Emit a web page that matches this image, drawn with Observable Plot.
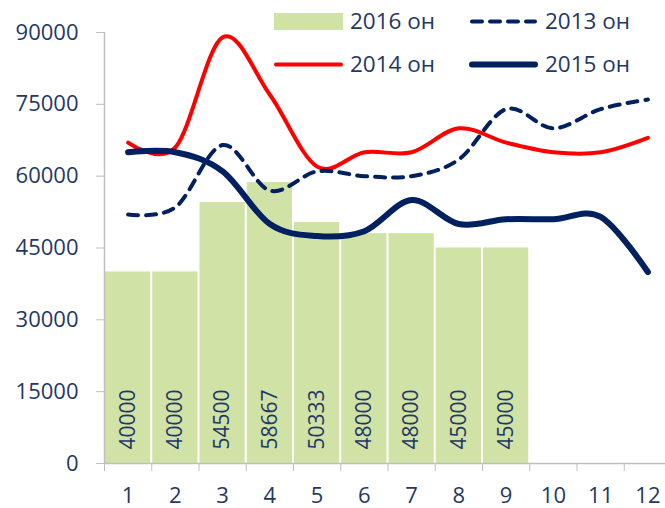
<!DOCTYPE html>
<html>
<head>
<meta charset="utf-8">
<script src="https://cdn.jsdelivr.net/npm/d3@7"></script>
<script src="https://cdn.jsdelivr.net/npm/@observablehq/plot@0.6"></script>
<style>
  html, body { margin: 0; padding: 0; background: #fff; }
  #wrap { position: relative; width: 665px; height: 508px; font-family: "Open Sans", sans-serif; color: #1f3864; }
  .lg { position: absolute; display: flex; align-items: center; font-size: 22.5px; line-height: 1; white-space: nowrap; }
  .lg svg { margin-right: 7px; }
</style>
</head>
<body>
<div id="wrap"></div>
<script>
const months = [1, 2, 3, 4, 5, 6, 7, 8, 9, 10, 11, 12];
const xTickLabels = ["1", "2", "3", "4", "5", "6", "7", "8", "9", "10", "11", "12"];
const yTicks = [0, 15000, 30000, 45000, 60000, 75000, 90000];
const bars2016 = [40000, 40000, 54500, 58667, 50333, 48000, 48000, 45000, 45000];
const line2013 = [52000, 53500, 66500, 57000, 61000, 60000, 60000, 63500, 74000, 70000, 74000, 76000];
const line2014 = [67000, 66000, 89000, 77000, 62000, 65000, 65000, 70000, 67000, 65000, 65000, 68000];
const line2015 = [65000, 65000, 61000, 50000, 47500, 48500, 55000, 50000, 51000, 51000, 51500, 40000];
const seriesNames = ["2016 он", "2013 он", "2014 он", "2015 он"];

const navy = "#002060";
const red = "#ff0000";
const green = "#d1e2a7";
const textCol = "#1f3864";
const grid = "#bfbfbf";

const barData = bars2016.map((v, i) => ({m: months[i], v}));
const mk = arr => arr.map((v, i) => ({m: months[i], v}));
const boundaries = [0.5, ...months.map(m => m + 0.5)];

const chart = Plot.plot({
  width: 665,
  height: 508,
  marginTop: 32,
  marginBottom: 45,
  marginLeft: 104,
  marginRight: 0,
  style: {fontFamily: "'Open Sans', sans-serif", fontSize: "22px", color: textCol, background: "white"},
  x: {domain: [0.5, 12.5], range: [104, 671]},
  y: {domain: [0, 90000]},
  marks: [
    Plot.rectY(barData, {x1: d => d.m - 0.5, x2: d => d.m + 0.5, y: "v", fill: green, insetLeft: 1, insetRight: 1}),
    Plot.text(barData, {x: "m", y: () => 0, text: d => String(d.v), rotate: -90, textAnchor: "start", dy: -14, fill: textCol, fontSize: 21}),
    Plot.ruleX([0.5], {stroke: grid, strokeWidth: 1.5}),
    Plot.ruleY([0], {stroke: grid, strokeWidth: 1.5}),
    Plot.axisY({ticks: yTicks, tickSize: 8, tickPadding: 18, stroke: grid, fill: textCol, label: null, tickFormat: d => String(d), fontSize: 22}),
    Plot.axisX({ticks: boundaries, tickSize: 8, stroke: grid, tickFormat: () => "", label: null}),
    Plot.axisX({ticks: months, tickSize: 0, tickPadding: 24, fill: textCol, tickFormat: (d, i) => xTickLabels[i], label: null, fontSize: 22}),
    Plot.line(mk(line2014), {x: "m", y: "v", stroke: red, strokeWidth: 4, curve: "cardinal"}),
    Plot.line(mk(line2013), {x: "m", y: "v", stroke: navy, strokeWidth: 4, strokeDasharray: "10,8", strokeLinecap: "round", curve: "cardinal"}),
    Plot.line(mk(line2015), {x: "m", y: "v", stroke: navy, strokeWidth: 6, strokeLinecap: "round", curve: "cardinal"})
  ]
});

const wrap = document.getElementById("wrap");
wrap.appendChild(chart);

const legend = [
  {name: seriesNames[0], left: 274, top: 22, sw: `<rect x="0" y="0" width="69" height="17" fill="${green}"/>`},
  {name: seriesNames[1], left: 469, top: 22, sw: `<line x1="3" y1="8.5" x2="66" y2="8.5" stroke="${navy}" stroke-width="4" stroke-dasharray="10,8" stroke-linecap="round"/>`},
  {name: seriesNames[2], left: 274, top: 65, sw: `<line x1="2" y1="8.5" x2="67" y2="8.5" stroke="${red}" stroke-width="4" stroke-linecap="round"/>`},
  {name: seriesNames[3], left: 469, top: 65, sw: `<line x1="3" y1="8.5" x2="66" y2="8.5" stroke="${navy}" stroke-width="6" stroke-linecap="round"/>`}
];
for (const l of legend) {
  const d = document.createElement("div");
  d.className = "lg";
  d.style.left = l.left + "px";
  d.style.top = (l.top - 12) + "px";
  d.innerHTML = `<svg width="69" height="17">${l.sw}</svg><span>${l.name}</span>`;
  wrap.appendChild(d);
}
</script>
</body>
</html>
